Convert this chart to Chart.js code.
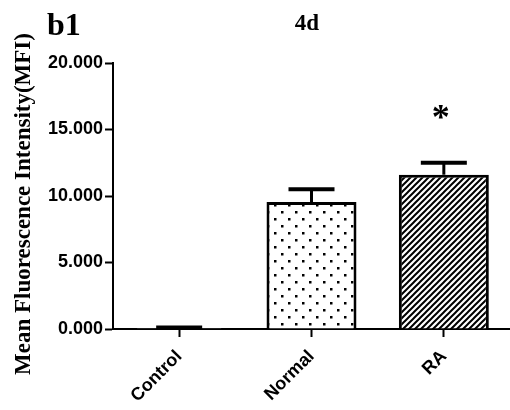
<!DOCTYPE html>
<html>
<head>
<meta charset="utf-8">
<script src="https://cdn.jsdelivr.net/npm/chart.js@4"></script>
<style>
html,body{margin:0;padding:0;background:#fff;}
#wrap{width:510px;height:410px;position:relative;}
</style>
</head>
<body>
<div id="wrap"><canvas id="c" width="510" height="410"></canvas></div>
<script>
const categories = ["Control", "Normal", "RA"];
const means = [0.08, 9.55, 11.6];
const errors = [0.03, 0.95, 0.9];
const yTicks = [0, 5, 10, 15, 20];
const significance = ["", "", "*"];
const panelLabel = "b1";
const chartTitle = "4d";
const yTitle = "Mean Fluorescence Intensity(MFI)";

function dotPattern() {
  const c = document.createElement('canvas');
  c.width = 14; c.height = 14;
  const g = c.getContext('2d');
  g.fillStyle = '#fff'; g.fillRect(0, 0, 14, 14);
  g.fillStyle = '#000';
  g.fillRect(1, 1, 2.5, 2.5);
  g.fillRect(8, 8, 2.5, 2.5);
  return g.createPattern(c, 'repeat');
}
function hatchPattern() {
  const s = 6;
  const c = document.createElement('canvas');
  c.width = s; c.height = s;
  const g = c.getContext('2d');
  g.fillStyle = '#fff'; g.fillRect(0, 0, s, s);
  g.strokeStyle = '#000'; g.lineWidth = 2;
  g.beginPath();
  g.moveTo(-1, s + 1); g.lineTo(s + 1, -1);
  g.moveTo(-1, 1); g.lineTo(1, -1);
  g.moveTo(s - 1, s + 1); g.lineTo(s + 1, s - 1);
  g.stroke();
  return g.createPattern(c, 'repeat');
}

const errorBarPlugin = {
  id: 'errorBars',
  afterDatasetsDraw(chart) {
    const ctx = chart.ctx;
    const meta = chart.getDatasetMeta(0);
    const ys = chart.scales.y;
    ctx.save();
    ctx.strokeStyle = '#000';
    meta.data.forEach((bar, i) => {
      const top = ys.getPixelForValue(means[i] + errors[i]);
      const x = bar.x;
      ctx.lineWidth = 3;
      ctx.beginPath();
      ctx.moveTo(x, bar.y);
      ctx.lineTo(x, top);
      ctx.stroke();
      ctx.lineWidth = 4;
      ctx.beginPath();
      ctx.moveTo(x - 23, top);
      ctx.lineTo(x + 23, top);
      ctx.stroke();
      if (significance[i]) {
        ctx.fillStyle = '#000';
        ctx.font = 'bold 36px "Liberation Serif", "Times New Roman", serif';
        ctx.textAlign = 'center';
        ctx.textBaseline = 'middle';
        ctx.fillText(significance[i], x - 3, top - 43);
      }
    });
    ctx.restore();
  }
};

const textPlugin = {
  id: 'texts',
  afterDraw(chart) {
    const ctx = chart.ctx;
    ctx.save();
    ctx.fillStyle = '#000';
    ctx.textBaseline = 'alphabetic';
    ctx.textAlign = 'left';
    ctx.font = 'bold 32px "Liberation Serif", "Times New Roman", serif';
    ctx.fillText(panelLabel, 47, 35);
    ctx.textAlign = 'center';
    ctx.font = 'bold 23px "Liberation Serif", "Times New Roman", serif';
    ctx.fillText(chartTitle, 307, 30);
    ctx.translate(24, 204);
    ctx.rotate(-Math.PI / 2);
    ctx.textBaseline = 'middle';
    ctx.font = 'bold 23px "Liberation Serif", "Times New Roman", serif';
    ctx.fillText(yTitle, 0, 0);
    ctx.restore();
  }
};

new Chart(document.getElementById('c'), {
  type: 'bar',
  data: {
    labels: categories,
    datasets: [{
      data: means,
      backgroundColor: ['#ffffff', dotPattern(), hatchPattern()],
      borderColor: '#000',
      borderWidth: 3,
      barPercentage: 0.68,
      categoryPercentage: 1.0
    }]
  },
  options: {
    responsive: false,
    animation: false,
    devicePixelRatio: 1,
    layout: { padding: { top: 63, right: 0, left: 0, bottom: 0 } },
    plugins: { legend: { display: false }, tooltip: { enabled: false } },
    scales: {
      x: {
        afterFit(s) { s.height = 81; },
        grid: { offset: false, drawOnChartArea: false, drawTicks: true, tickLength: 8, tickWidth: 2, color: '#000' },
        border: { display: true, color: '#000', width: 2 },
        ticks: {
          color: '#000', maxRotation: 45, minRotation: 45, padding: 9,
          font: { family: '"Liberation Sans", Arial, sans-serif', weight: 'bold', size: 18 }
        }
      },
      y: {
        min: 0, max: 20,
        afterFit(s) { s.width = 113; },
        afterBuildTicks(s) { s.ticks = yTicks.map(v => ({ value: v })); },
        grid: { drawOnChartArea: false, drawTicks: true, tickLength: 8, tickWidth: 2, color: '#000' },
        border: { display: true, color: '#000', width: 2 },
        ticks: {
          color: '#000', padding: 2,
          font: { family: '"Liberation Sans", Arial, sans-serif', weight: 'bold', size: 18 },
          callback: v => Number(v).toFixed(3)
        },
        title: { display: false }
      }
    }
  },
  plugins: [errorBarPlugin, textPlugin]
});
</script>
</body>
</html>
